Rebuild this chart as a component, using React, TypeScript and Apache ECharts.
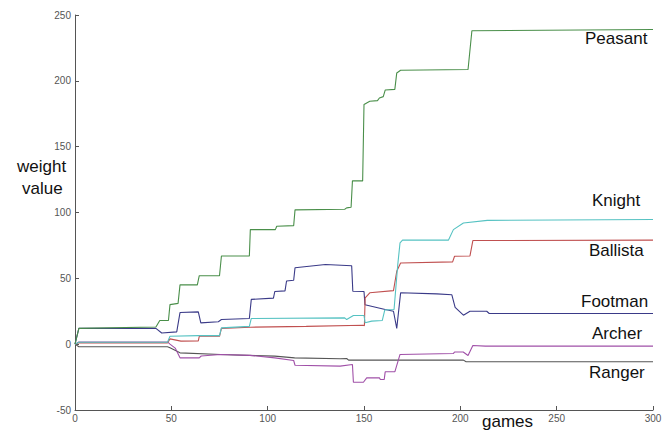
import React, { useEffect, useRef } from "react";
import * as echarts from "echarts";

// [game, weight value] pairs
const peasant: number[][] = [
  [0, 0], [2, 12], [42, 13], [44, 18], [48.5, 18], [49.3, 30], [53.5, 31], [54.5, 45], [63.5, 45], [64.5, 52],
  [75, 52], [76, 67], [90.5, 67], [91, 87], [104, 87], [104.7, 89.6], [113.5, 90], [114.2, 102], [140, 102.5],
  [141, 103.5], [143.3, 104], [144, 124], [149.3, 124], [150, 182], [153, 184.5], [157, 185], [158, 187],
  [160, 188], [161, 193], [166, 193.5], [167, 206], [169, 208], [204, 208.6], [206, 238], [300, 239],
];
const knight: number[][] = [
  [0, 0], [2, 1.5], [48, 1.5], [49.3, 6], [64, 6.5], [75, 6.5], [76, 12.4], [90.5, 13.5], [91.5, 19.5],
  [140, 20], [141, 18.7], [144.5, 21.8], [150, 21.8], [150.6, 16.2], [154, 17.5], [159.5, 18], [160.8, 26],
  [165.6, 26.3], [167.5, 60], [168.7, 77], [170, 79], [193.8, 79], [196.4, 87], [201.6, 92], [214, 94], [300, 94.7],
];
const ballista: number[][] = [
  [0, 0], [2, 1], [48, 1], [49.3, 4], [55, 2.3], [64, 2.5], [64.5, 6], [75, 6], [76, 12], [91, 12.9],
  [120, 13.5], [149.5, 14.4], [150.2, 14], [150.6, 35.2], [153, 39], [165.3, 40.7], [167, 55.4], [169, 61.7],
  [196, 62.5], [197, 66.8], [205, 67], [206.5, 78.7], [300, 79],
];
const footman: number[][] = [
  [0, 0], [2, 12], [42, 12], [45, 8.5], [52.8, 9.3], [54.5, 24], [64, 24.5], [65.3, 16.2], [74.4, 17],
  [76, 18.7], [90.5, 19.5], [91.5, 34], [103, 35], [103.7, 40], [109, 40.5], [109.8, 48], [113.5, 48.5],
  [114.2, 58], [130, 60.5], [143.6, 59.5], [144.2, 40.2], [150, 40], [150.5, 30], [161, 26.3], [165.3, 25],
  [167, 12], [169, 39], [187.8, 38.2], [195.6, 37.5], [197.3, 28], [201.6, 22], [205, 25], [213.7, 25],
  [215, 23.3], [300, 23.3],
];
const archer: number[][] = [
  [0, 0], [2, 1.7], [48, 1.7], [49.3, 0], [52, -3], [54.5, -10.4], [64.5, -10.4], [65.5, -9], [75.5, -7.9],
  [91, -8.5], [103.7, -10.4], [113.5, -12.4], [114.2, -16], [137.6, -16.7], [144, -15.5], [144.5, -28.9],
  [149.7, -28.9], [151.4, -25.6], [158, -25.6], [158.5, -26.8], [160.5, -26.8], [161, -21], [166, -21],
  [168.7, -7.8], [196.3, -7.1], [197, -6], [201.5, -6], [204, -8.6], [206.5, -1], [213, -1.5], [300, -1.5],
];
const ranger: number[][] = [
  [0, 0], [2, -2], [48, -2], [49.3, -2.8], [54.5, -6.6], [75.5, -7.9], [103.7, -9.1], [114, -10.4],
  [137.6, -11.1], [141, -10.9], [142, -12.1], [201.6, -12.1], [203, -13.4], [300, -13.4],
];

const seriesNames = ["Peasant", "Knight", "Ballista", "Footman", "Archer", "Ranger"];
const seriesData = [peasant, knight, ballista, footman, archer, ranger];
const seriesColors = ["#4a8f4a", "#55c2c2", "#c05050", "#3a3a88", "#a050a8", "#555555"];

export default function App() {
  const ref = useRef<HTMLDivElement>(null);
  useEffect(() => {
    if (!ref.current) return;
    const chart = echarts.init(ref.current, undefined, { renderer: "svg" });
    const labelFont = { fontFamily: "Liberation Sans, Arial, sans-serif", fontSize: 17, fill: "#111" };
    const labelPos: Record<string, [number, number]> = {
      Peasant: [585, 38],
      Knight: [592, 200],
      Ballista: [589, 250],
      Footman: [581, 301],
      Archer: [592, 333],
      Ranger: [589, 372],
    };
    chart.setOption({
      animation: false,
      backgroundColor: "#fff",
      grid: { left: 75, right: 17, top: 15, bottom: 20 },
      xAxis: {
        type: "value",
        min: 0,
        max: 300,
        interval: 50,
        axisLine: { onZero: false, lineStyle: { color: "#555", width: 1 } },
        axisTick: { inside: true, length: 4, lineStyle: { color: "#555" } },
        axisLabel: { color: "#555", fontSize: 10, fontFamily: "Liberation Sans, Arial", margin: 3 },
        splitLine: { show: false },
      },
      yAxis: {
        type: "value",
        min: -50,
        max: 250,
        interval: 50,
        axisLine: { show: true, onZero: false, lineStyle: { color: "#555", width: 1 } },
        axisTick: { show: true, inside: true, length: 4, lineStyle: { color: "#555" } },
        axisLabel: { color: "#555", fontSize: 10, fontFamily: "Liberation Sans, Arial", margin: 4 },
        splitLine: { show: false },
      },
      series: seriesNames.map((name, i) => ({
        name,
        type: "line",
        data: seriesData[i],
        showSymbol: false,
        symbol: "none",
        lineStyle: { color: seriesColors[i], width: 1.1 },
        z: 10 - i,
      })),
      graphic: [
        ...seriesNames.map((name) => ({
          type: "text",
          x: labelPos[name][0],
          y: labelPos[name][1],
          style: { text: name, ...labelFont, verticalAlign: "middle" },
        })),
        { type: "text", x: 17, y: 166, style: { text: "weight", ...labelFont, verticalAlign: "middle" } },
        { type: "text", x: 22, y: 188, style: { text: "value", ...labelFont, verticalAlign: "middle" } },
        { type: "text", x: 482, y: 421, style: { text: "games", ...labelFont, verticalAlign: "middle" } },
      ],
    });
    return () => chart.dispose();
  }, []);
  return <div ref={ref} style={{ position: "absolute", left: 0, top: 0, width: 670, height: 430 }} />;
}
